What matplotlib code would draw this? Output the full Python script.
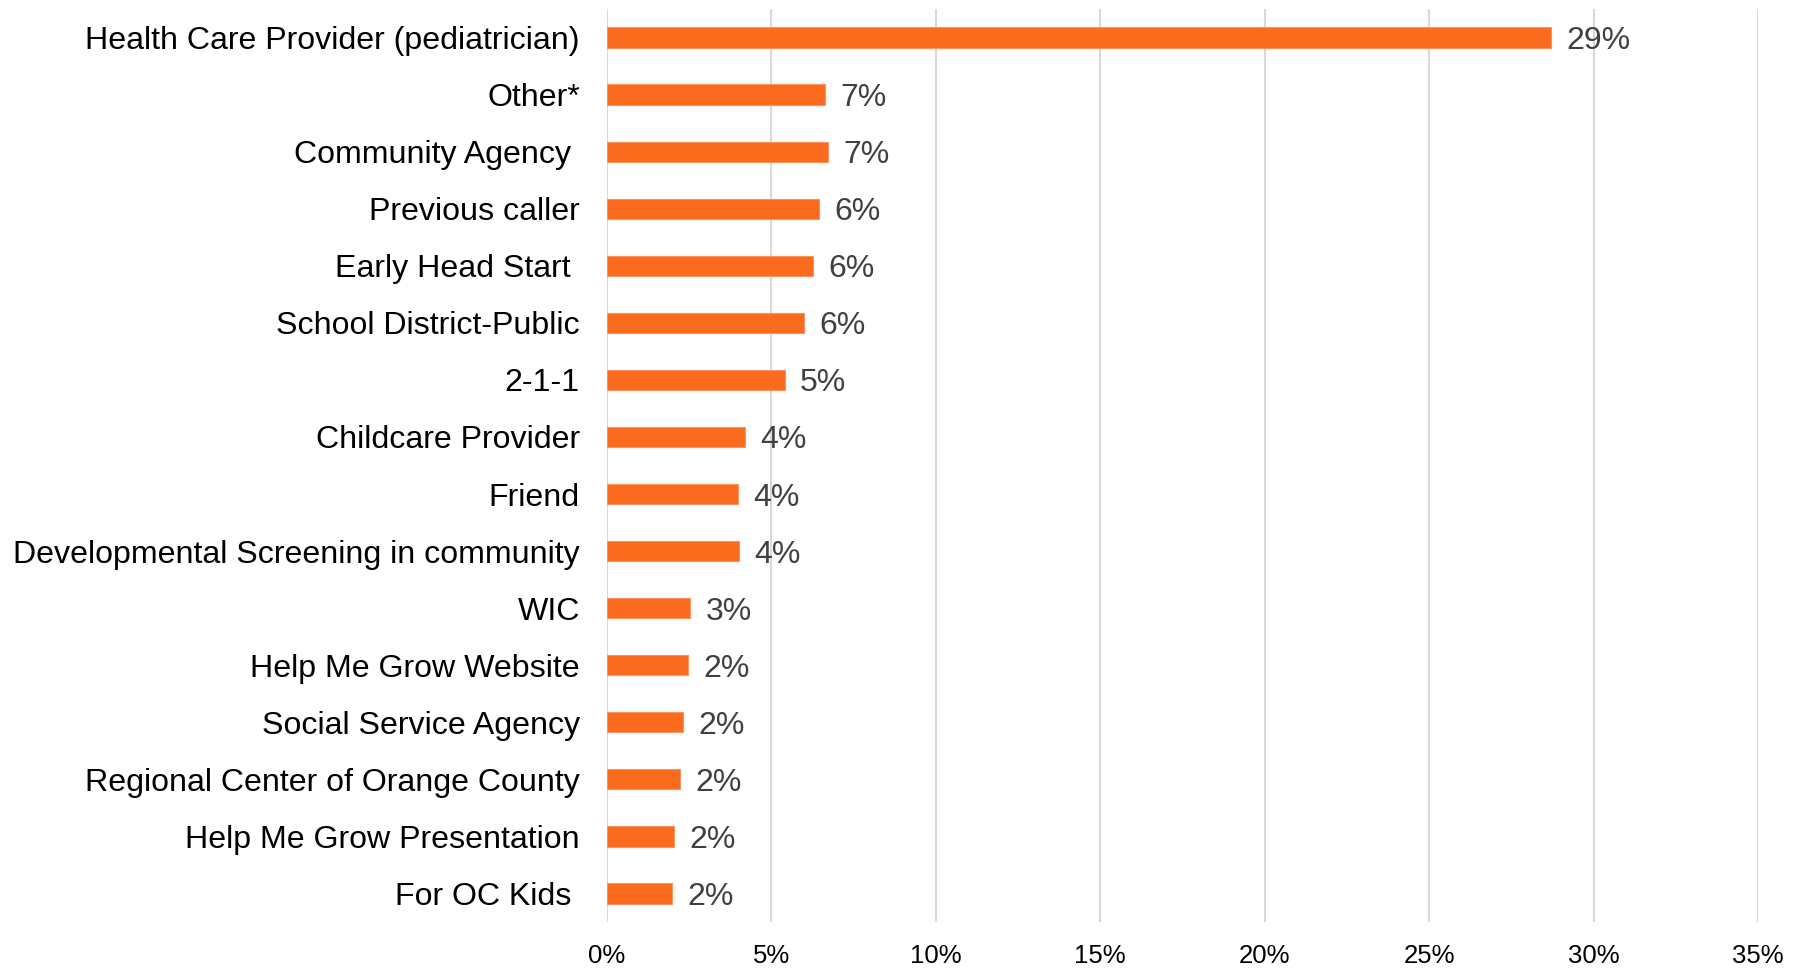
import matplotlib
matplotlib.use("Agg")
import matplotlib.pyplot as plt
from matplotlib.ticker import FuncFormatter

categories = [
    "Health Care Provider (pediatrician)",
    "Other*",
    "Community Agency ",
    "Previous caller",
    "Early Head Start ",
    "School District-Public",
    "2-1-1",
    "Childcare Provider",
    "Friend",
    "Developmental Screening in community",
    "WIC",
    "Help Me Grow Website",
    "Social Service Agency",
    "Regional Center of Orange County",
    "Help Me Grow Presentation",
    "For OC Kids ",
]
values = [28.7, 6.62, 6.72, 6.44, 6.27, 5.99, 5.40, 4.21, 3.97, 4.0, 2.53, 2.47, 2.30, 2.23, 2.05, 1.99]
x_ticks = [0, 5, 10, 15, 20, 25, 30, 35]

plt.rcParams['font.family'] = ['Liberation Sans', 'DejaVu Sans']

fig = plt.figure(figsize=(17.96, 9.73), dpi=100)
ax = fig.add_axes([607/1796, 51/973, (1758-607)/1796, (922-9)/973])

y = list(range(len(categories)))
ax.barh(y, values, height=0.355, color="#FA6B1E", edgecolor="#FB9360", linewidth=0.8, zorder=3)

for yi, v in zip(y, values):
    ax.annotate(f"{v:.0f}%", xy=(v, yi), xytext=(11, -2.5), textcoords="offset points",
                va="center", ha="left", fontsize=23, color="#404040")

ax.set_ylim(len(categories) - 0.5, -0.5)
ax.set_xlim(0, 35)
ax.set_yticks(y)
ax.set_yticklabels(categories, fontsize=23.1, color="black")
ax.set_xticks(x_ticks)
ax.xaxis.set_major_formatter(FuncFormatter(lambda v, p: f"{v:.0f}%"))
ax.tick_params(axis="x", labelsize=18.5, colors="black", length=0, pad=16)
ax.tick_params(axis="y", length=0, pad=19.5)
ax.grid(axis="x", color="#D9D9D9", linewidth=1.5, zorder=0)
for s in ax.spines.values():
    s.set_visible(False)

fig.savefig("out.png", dpi=100)
